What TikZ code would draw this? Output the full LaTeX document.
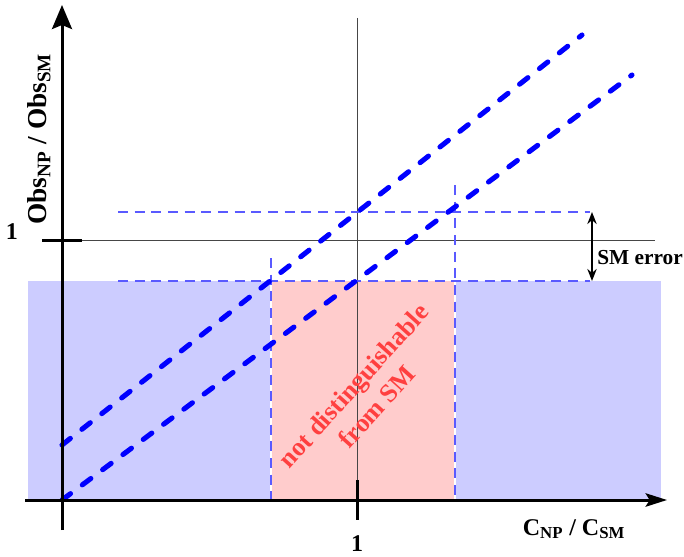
\documentclass[tikz,border=0pt]{standalone}
\usepackage{fontspec}
\setmainfont{Liberation Serif}
\usetikzlibrary{arrows.meta}
\definecolor{fillblue}{RGB}{204,204,255}
\definecolor{fillpink}{RGB}{255,204,204}
\definecolor{thinblue}{RGB}{90,90,255}
\definecolor{textred}{RGB}{255,64,64}
\definecolor{guidegray}{RGB}{70,70,70}
\newcommand{\sbs}[1]{\textsubscript{#1}}
\newcommand{\lblfont}{\fontsize{18}{21}\selectfont\bfseries}
\newcommand{\ylblfont}{\fontsize{20.5}{24}\selectfont\bfseries}
\newcommand{\errfont}{\fontsize{16}{19}\selectfont\bfseries}
\newcommand{\redfont}{\fontsize{19.5}{23.5}\selectfont\bfseries}
\begin{document}
\begin{tikzpicture}[x=0.75pt,y=-0.75pt,
  yaxis/.style={line width=2.25pt,-{Stealth[length=18pt,width=15pt,inset=3pt]}},
  xaxis/.style={line width=2.25pt,-{Stealth[length=16pt,width=10pt,inset=3pt]}},
  tickmark/.style={line width=2.25pt},
  guide/.style={line width=0.75pt,guidegray},
  thindash/.style={line width=1pt,thinblue,dash pattern=on 7.5pt off 5pt},
  thickdash/.style={line width=3.8pt,blue,line cap=round,dash pattern=on 8pt off 11pt},
  lbl/.style={font=\lblfont,inner sep=0pt},
  errarrow/.style={line width=1.5pt,{Stealth[length=9pt,width=7pt]}-{Stealth[length=9pt,width=7pt]}}
]
\useasboundingbox (0,0) rectangle (684,556);
% regions
\fill[fillblue] (28,281) rectangle (661,500);
\fill[fillpink] (271,281) rectangle (455,500);
\draw[white,line width=1.5pt] (271,281) -- (271,500);
\draw[white,line width=1.5pt] (455,281) -- (455,500);
% coordinates
\coordinate (ybot) at (62,530);
\coordinate (ytop) at (62,5);
\coordinate (xleft) at (25,500);
\coordinate (xright) at (667,500);
\coordinate (oneL) at (42,240);
\coordinate (oneR) at (82,240);
\coordinate (hend) at (655,240);
\coordinate (vtop) at (357,18);
\coordinate (vbot) at (357,500);
\coordinate (tkT) at (357,480);
\coordinate (tkB) at (357,520);
\coordinate (upL) at (118,212);
\coordinate (upR) at (590,212);
\coordinate (loL) at (118,281);
\coordinate (loR) at (590,281);
\coordinate (v1T) at (271,258);
\coordinate (v1B) at (271,500);
\coordinate (v2T) at (455,185);
\coordinate (v2B) at (455,500);
\coordinate (l1a) at (62,445);
\coordinate (l1b) at (582,35);
\coordinate (l2a) at (62,500);
\coordinate (l2b) at (632,75);
\coordinate (errT) at (592,212);
\coordinate (errB) at (592,281);
% guides
\draw[guide] (oneR) -- (hend);
\draw[guide] (vtop) -- (vbot);
% thin dashed
\draw[thindash] (upL) -- (upR);
\draw[thindash] (loL) -- (loR);
\draw[thindash] (v1T) -- (v1B);
\draw[thindash] (v2T) -- (v2B);
% thick dashed lines
\draw[thickdash] (l1a) -- (l1b);
\draw[thickdash] (l2a) -- (l2b);
% axes
\draw[xaxis] (xleft) -- (xright);
\draw[yaxis] (ybot) -- (ytop);
\draw[tickmark] (oneL) -- (oneR);
\draw[tickmark] (tkT) -- (tkB);
% error arrow
\draw[errarrow] (errT) -- (errB);
% labels
\node[font=\errfont,inner sep=0pt,anchor=west] (smerr) at (597,258) {SM error};
\node[lbl] (yone) at (12,232) {1};
\node[lbl] (xone) at (357,544) {1};
\node[lbl] (xlab) at (574,529) {C\sbs{NP} / C\sbs{SM}};
\node[font=\ylblfont,inner sep=0pt,rotate=90] (ylab) at (39,139) {Obs\sbs{NP} / Obs\sbs{SM}};
\node[font=\redfont,textred,rotate=48,align=center,inner sep=0pt] (nd) at (365,396) {not distinguishable\\from SM};
\end{tikzpicture}
\end{document}
